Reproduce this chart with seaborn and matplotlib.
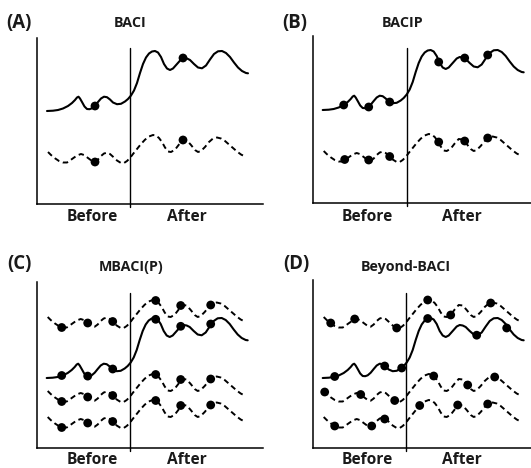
import numpy as np
import pandas as pd
import matplotlib
matplotlib.use("Agg")
import matplotlib.pyplot as plt
import seaborn as sns

sns.set_theme(style="white")
plt.rcParams['font.family'] = ['Open Sans', 'DejaVu Sans']

W, H = 531, 468

# ---------------- data (schematic curves, local panel units) ----------------
solid_x = [10, 16, 21, 26, 31, 35, 38, 40, 41.5, 43, 45, 47.5, 50, 52.5, 55, 58, 61, 64, 67, 70,
           73, 76, 80, 84, 88, 91, 94, 97, 100, 103, 106, 109, 112, 115, 118, 121, 124, 127, 130, 133,
           136, 140, 144, 147, 150, 153, 157, 161, 165, 169, 173, 177, 181, 185, 189, 193, 197, 201,
           205, 209, 211]
dashed_x = [11, 14, 18, 22, 26, 30, 33, 36, 40, 44, 47, 51, 55, 58, 61, 64, 67, 70, 73, 76,
            80, 84, 87, 90, 93, 96, 100, 104, 108, 112, 116, 119, 122, 125, 128, 131, 134, 138, 142,
            146, 150, 154, 158, 161, 164, 168, 172, 176, 180, 184, 188, 192, 196, 200, 204, 206]

# Panel A (BACI)
A_impact = [93, 93.3, 94, 95.5, 98, 101, 104, 106.5, 107.3, 105.5, 102, 97.5, 95, 94.8, 95.7, 98.3,
            102, 105.5, 107.3, 106.8, 104.5, 101.5, 99.8, 100.2, 102.5, 105, 108.5, 113.5, 121, 131,
            140, 146.5, 150.5, 152.5, 153, 151.5, 147, 140, 135.5, 134, 135.5, 140, 144.5, 146, 145.5,
            144, 140, 136.5, 135.7, 138.5, 144.5, 150, 152.7, 153, 151, 147, 141.5, 136.5, 133, 131,
            130.7]
A_control = [52, 49, 45.7, 43, 41.5, 41.5, 43.5, 45.7, 48.5, 50, 49, 46, 43, 42.3, 44.5, 48, 50.5,
             51.3, 50, 47.3, 43.5, 41, 41, 43, 46, 50, 55, 60, 64.3, 67.5, 69, 68.5, 66, 62, 56.5,
             52.5, 52, 54.3, 59.5, 64, 63.5, 59, 54, 52, 53, 57, 62, 65.5, 66.5, 65.5, 63, 59.5, 56,
             52.5, 49.5, 48.5]
A_impact_dots_x, A_impact_dots_y = [58, 146], [98, 146]
A_control_dots_x, A_control_dots_y = [58, 146], [42, 64]

# Panel B (BACIP)
B_impact = [93, 93.3, 94, 95.5, 98, 101, 104, 106.5, 107.3, 105.5, 102, 97.5, 95, 94.8, 95.7, 98.3,
            102, 105.5, 107.3, 106.8, 104.5, 101.5, 99.8, 100.2, 102.5, 105, 108.5, 113.5, 121, 131,
            140, 146.5, 150.5, 152.5, 153, 151.5, 147, 140, 135.5, 134, 135.5, 140, 144.5, 146, 145.5,
            144, 140, 136.5, 135.7, 138.5, 144.5, 150, 152.7, 153, 151, 147, 141.5, 136.5, 133, 131,
            130.7]
B_control = [52, 49, 45.7, 43, 41.5, 41.5, 43.5, 45.7, 48.5, 50, 49, 46, 43, 42.3, 44.5, 48, 50.5,
             51.3, 50, 47.3, 43.5, 41, 41, 43, 46, 50, 55, 60, 64.3, 67.5, 69, 68.5, 66, 62, 56.5,
             52.5, 52, 54.3, 59.5, 64, 63.5, 59, 54, 52, 53, 57, 62, 65.5, 66.5, 65.5, 63, 59.5, 56,
             52.5, 49.5, 48.5]
B_impact_dots_x, B_impact_dots_y = [31, 56, 77, 126, 152, 175], [98, 96, 101, 141, 145, 148]
B_control_dots_x, B_control_dots_y = [32, 56, 77, 126, 152, 175], [43.5, 43, 46.5, 61, 62, 65]

# Panel C (MBACI(P))
C_control1 = [131, 128, 124.7, 122, 120.5, 120.5, 122.5, 124.7, 127.5, 129, 128, 125, 122, 121.3,
              123.5, 127, 129.5, 130.3, 129, 126.3, 122.5, 120, 120, 122, 125, 129, 134, 139, 143.3,
              146.5, 148, 147.5, 145, 141, 135.5, 131.5, 131, 133.3, 138.5, 143, 142.5, 138, 133, 131,
              132, 136, 141, 144.5, 145.5, 144.5, 142, 138.5, 135, 131.5, 128.5, 127.5]
C_impact = [70, 70.3, 71, 72.5, 75, 78, 81, 83.5, 84.3, 82.5, 79, 74.5, 72, 71.8, 72.7, 75.3, 79,
            82.5, 84.3, 83.8, 81.5, 78.5, 76.8, 77.2, 79.5, 82, 85.5, 90.5, 98, 108, 117, 123.5,
            127.5, 129.5, 130, 128.5, 124, 117, 112.5, 111, 112.5, 117, 121.5, 123, 122.5, 121, 117,
            113.5, 112.7, 115.5, 121.5, 127, 129.7, 130, 128, 124, 118.5, 113.5, 110, 108, 107.7]
C_control2 = [57, 54, 50.7, 48, 46.5, 46.5, 48.5, 50.7, 53.5, 55, 54, 51, 48, 47.3, 49.5, 53, 55.5,
              56.3, 55, 52.3, 48.5, 46, 46, 48, 51, 55, 60, 65, 69.3, 72.5, 74, 73.5, 71, 67, 61.5,
              57.5, 57, 59.3, 64.5, 69, 68.5, 64, 59, 57, 58, 62, 67, 70.5, 71.5, 70.5, 68, 64.5, 61,
              57.5, 54.5, 53.5]
C_control3 = [31, 28, 24.7, 22, 20.5, 20.5, 22.5, 24.7, 27.5, 29, 28, 25, 22, 21.3, 23.5, 27, 29.5,
              30.3, 29, 26.3, 22.5, 20, 20, 22, 25, 29, 34, 39, 43.3, 46.5, 48, 47.5, 45, 41, 35.5,
              31.5, 31, 33.3, 38.5, 43, 42.5, 38, 33, 31, 32, 36, 41, 44.5, 45.5, 44.5, 42, 38.5, 35,
              31.5, 28.5, 27.5]
C_dots_x = [25, 51, 76, 119, 144, 174]
C_control1_dots_y = [120.5, 125, 126.5, 147.5, 142.5, 143]
C_impact_dots_y = [72.5, 71.9, 79, 128.7, 121.7, 124]
C_control2_dots_y = [46.5, 51, 52.5, 73.5, 68.5, 69]
C_control3_dots_y = [20.5, 25, 26.5, 47.5, 42.5, 43]

# Panel D (Beyond-BACI)
D_control1 = [131, 128, 124.7, 122, 120.5, 120.5, 122.5, 124.7, 127.5, 129, 128, 125, 122, 121.3,
              123.5, 127, 129.5, 130.3, 129, 126.3, 122.5, 120, 120, 122, 125, 129, 134, 139, 143.3,
              146.5, 148, 147.5, 145, 141, 135.5, 131.5, 131, 133.3, 138.5, 143, 142.5, 138, 133, 131,
              132, 136, 141, 144.5, 145.5, 144.5, 142, 138.5, 135, 131.5, 128.5, 127.5]
D_impact = [70, 70.3, 71, 72.5, 75, 78, 81, 83.5, 84.3, 82.5, 79, 74.5, 72, 71.8, 72.7, 75.3, 79,
            82.5, 84.3, 83.8, 81.5, 78.5, 76.8, 77.2, 79.5, 82, 85.5, 90.5, 98, 108, 117, 123.5,
            127.5, 129.5, 130, 128.5, 124, 117, 112.5, 111, 112.5, 117, 121.5, 123, 122.5, 121, 117,
            113.5, 112.7, 115.5, 121.5, 127, 129.7, 130, 128, 124, 118.5, 113.5, 110, 108, 107.7]
D_control2 = [57, 54, 50.7, 48, 46.5, 46.5, 48.5, 50.7, 53.5, 55, 54, 51, 48, 47.3, 49.5, 53, 55.5,
              56.3, 55, 52.3, 48.5, 46, 46, 48, 51, 55, 60, 65, 69.3, 72.5, 74, 73.5, 71, 67, 61.5,
              57.5, 57, 59.3, 64.5, 69, 68.5, 64, 59, 57, 58, 62, 67, 70.5, 71.5, 70.5, 68, 64.5, 61,
              57.5, 54.5, 53.5]
D_control3 = [31, 28, 24.7, 22, 20.5, 20.5, 22.5, 24.7, 27.5, 29, 28, 25, 22, 21.3, 23.5, 27, 29.5,
              30.3, 29, 26.3, 22.5, 20, 20, 22, 25, 29, 34, 39, 43.3, 46.5, 48, 47.5, 45, 41, 35.5,
              31.5, 31, 33.3, 38.5, 43, 42.5, 38, 33, 31, 32, 36, 41, 44.5, 45.5, 44.5, 42, 38.5, 35,
              31.5, 28.5, 27.5]
D_control1_dots_x, D_control1_dots_y = [18, 42, 84, 115, 138, 178], [125, 129, 120, 148, 133, 145]
D_impact_dots_x, D_impact_dots_y = [22, 72, 89, 115, 164, 194], [71.5, 82, 80, 129.5, 112.8, 120]
D_control2_dots_x, D_control2_dots_y = [12, 48, 82, 121, 155, 182], [56, 53.5, 47.5, 72, 63, 71]
D_control3_dots_x, D_control3_dots_y = [22, 59, 72, 107, 145, 175], [22, 22, 29, 42.5, 43, 44]

panel_letters = ["(A)", "(B)", "(C)", "(D)"]
panel_titles = ["BACI", "BACIP", "MBACI(P)", "Beyond-BACI"]
period_labels = ["Before", "After"]

# ---------------- drawing ----------------
fig = plt.figure(figsize=(W / 100, H / 100), dpi=100)

LW_SOLID = 1.5
LW_DASH = 1.4
DASH = (0, (2.8, 1.9))
DOT_S = 40


def make_axes(left, bottom, right, top):
    ax = fig.add_axes([left / W, 1 - bottom / H, (right - left) / W, (bottom - top) / H])
    ax.set_xlim(0, right - left)
    ax.set_ylim(0, bottom - top)
    ax.set_xticks([])
    ax.set_yticks([])
    for s in ["top", "right"]:
        ax.spines[s].set_visible(False)
    for s in ["left", "bottom"]:
        ax.spines[s].set_color("black")
        ax.spines[s].set_linewidth(1.1)
    ax.patch.set_alpha(0)
    return ax


def curve(ax, xs, ys, dashed):
    df = pd.DataFrame({"x": xs, "y": ys})
    if dashed:
        sns.lineplot(data=df, x="x", y="y", ax=ax, color="black", lw=LW_DASH,
                     linestyle=DASH, estimator=None, sort=False, clip_on=False)
    else:
        sns.lineplot(data=df, x="x", y="y", ax=ax, color="black", lw=LW_SOLID,
                     estimator=None, sort=False, clip_on=False)


def dots(ax, xs, ys):
    sns.scatterplot(x=xs, y=ys, ax=ax, color="black", s=DOT_S, edgecolor="none",
                    zorder=4, clip_on=False)


def finish(ax, div_x, div_top):
    ax.plot([div_x, div_x], [-3, div_top], color="black", lw=1.0, clip_on=False)
    ax.set_xlabel("")
    ax.set_ylabel("")


def ftext(x, y, s, size, ha="center"):
    fig.text(x / W, 1 - y / H, s, ha=ha, va="baseline", fontsize=size, fontweight="bold",
             color="#1a1a1a")


# Panel A
axA = make_axes(37, 204, 263, 38)
curve(axA, solid_x, A_impact, False)
curve(axA, dashed_x, A_control, True)
dots(axA, A_impact_dots_x, A_impact_dots_y)
dots(axA, A_control_dots_x, A_control_dots_y)
finish(axA, 93, 156)

# Panel B
axB = make_axes(312.7, 203, 531, 36)
curve(axB, solid_x, B_impact, False)
curve(axB, dashed_x, B_control, True)
dots(axB, B_impact_dots_x, B_impact_dots_y)
dots(axB, B_control_dots_x, B_control_dots_y)
finish(axB, 94, 155)

# Panel C
axC = make_axes(36.7, 448, 263, 281.7)
for ys in [C_control1, C_control2, C_control3]:
    curve(axC, dashed_x, ys, True)
curve(axC, solid_x, C_impact, False)
for ys in [C_control1_dots_y, C_impact_dots_y, C_control2_dots_y, C_control3_dots_y]:
    dots(axC, C_dots_x, ys)
finish(axC, 93.3, 154.7)

# Panel D
axD = make_axes(312.7, 448, 531, 280)
for ys in [D_control1, D_control2, D_control3]:
    curve(axD, dashed_x, ys, True)
curve(axD, solid_x, D_impact, False)
dots(axD, D_control1_dots_x, D_control1_dots_y)
dots(axD, D_impact_dots_x, D_impact_dots_y)
dots(axD, D_control2_dots_x, D_control2_dots_y)
dots(axD, D_control3_dots_x, D_control3_dots_y)
finish(axD, 93, 154.7)

# Texts
LETTER_SIZE = 13.4
TITLE_SIZE = 10.3
LABEL_SIZE = 11.2
ftext(19, 28.3, panel_letters[0], LETTER_SIZE)
ftext(295, 28.3, panel_letters[1], LETTER_SIZE)
ftext(19, 269.5, panel_letters[2], LETTER_SIZE)
ftext(296, 269.5, panel_letters[3], LETTER_SIZE)

ftext(130, 26.7, panel_titles[0], TITLE_SIZE)
ftext(402.7, 27.3, panel_titles[1], TITLE_SIZE)
ftext(130.8, 270.5, panel_titles[2], TITLE_SIZE)
ftext(405.8, 270.5, panel_titles[3], TITLE_SIZE)

ftext(92.5, 220.7, period_labels[0], LABEL_SIZE)
ftext(186.7, 220.7, period_labels[1], LABEL_SIZE)
ftext(367, 220.7, period_labels[0], LABEL_SIZE)
ftext(462, 220.7, period_labels[1], LABEL_SIZE)
ftext(92.5, 463.5, period_labels[0], LABEL_SIZE)
ftext(186.7, 463.5, period_labels[1], LABEL_SIZE)
ftext(367, 463.5, period_labels[0], LABEL_SIZE)
ftext(462, 463.5, period_labels[1], LABEL_SIZE)

fig.savefig("out.png", dpi=100)
